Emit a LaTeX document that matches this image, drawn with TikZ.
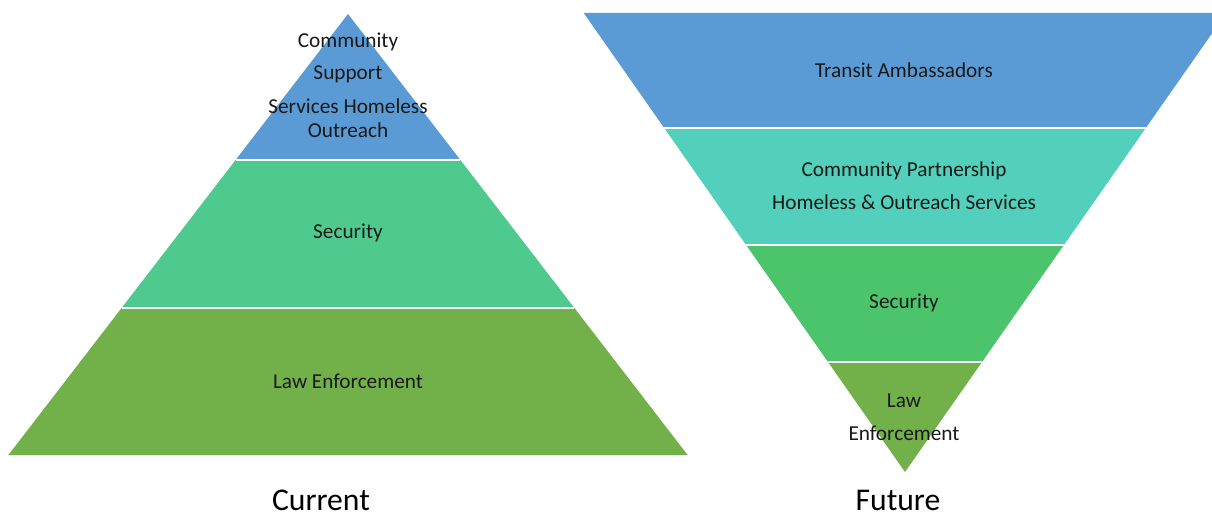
\documentclass[tikz,border=0pt]{standalone}
\usepackage{fontspec}
\setmainfont{Carlito}
\usepackage{xcolor}

\definecolor{topblue}{HTML}{5B9BD5}
\definecolor{midgreen}{HTML}{4FCA8E}
\definecolor{midteal}{HTML}{52D0BB}
\definecolor{secgreen}{HTML}{4BC46B}
\definecolor{lawgreen}{HTML}{72B04A}

\tikzset{
  lbl/.style={font=\fontsize{12.1}{14}\selectfont, text=black!90, inner sep=0pt},
  caption/.style={font=\fontsize{18}{21}\selectfont, inner sep=0pt},
  sep/.style={white, line width=1.3pt}
}

\begin{document}
\begin{tikzpicture}[x=0.02cm, y=-0.02cm]
\useasboundingbox (0,0) rectangle (1212,519);
\clip (0,0) rectangle (1212,519);
% пирамида (сейчас)
\fill [topblue] (348,14) -- (460.4,160) -- (235.6,160) -- cycle;
\fill [midgreen] (235.6,160) -- (460.4,160) -- (574.4,308) -- (121.6,308) -- cycle;
\fill [lawgreen] (121.6,308) -- (574.4,308) -- (687.6,455) -- (8.4,455) -- cycle;
\draw [sep] (235.6,160) -- (460.4,160);
\draw [sep] (121.6,308) -- (574.4,308);
% перевёрнутая пирамида (будущее)
\fill [topblue] (583.7,13) -- (1226.3,13) -- (1145.8,128) -- (664.2,128) -- cycle;
\fill [midteal] (664.2,128) -- (1145.8,128) -- (1063.9,245) -- (746.1,245) -- cycle;
\fill [secgreen] (746.1,245) -- (1063.9,245) -- (982,362) -- (828,362) -- cycle;
\fill [lawgreen] (828,362) -- (982,362) -- (905,472) -- cycle;
\draw [sep] (664.2,128) -- (1145.8,128);
\draw [sep] (746.1,245) -- (1063.9,245);
\draw [sep] (828,362) -- (982,362);
% подписи слева
\node [lbl] (curA) at (348,42) {Community};
\node [lbl] (curB) at (348,74) {Support};
\node [lbl] (curC) at (348,106) {Services Homeless};
\node [lbl] (curD) at (348,130) {Outreach};
\node [lbl] (curSec) at (348,233) {Security};
\node [lbl] (curLaw) at (348,381) {Law Enforcement};
\node [caption] (current) at (321,500) {Current};
% подписи справа
\node [lbl] (futTA) at (904,70) {Transit Ambassadors};
\node [lbl] (futCP) at (904,171) {Community Partnership};
\node [lbl] (futHO) at (904,202) {Homeless \& Outreach Services};
\node [lbl] (futSec) at (904,303) {Security};
\node [lbl] (futLawA) at (904,401) {Law};
\node [lbl] (futLawB) at (904,433) {Enforcement};
\node [caption] (future) at (898,500) {Future};
\end{tikzpicture}
\end{document}
